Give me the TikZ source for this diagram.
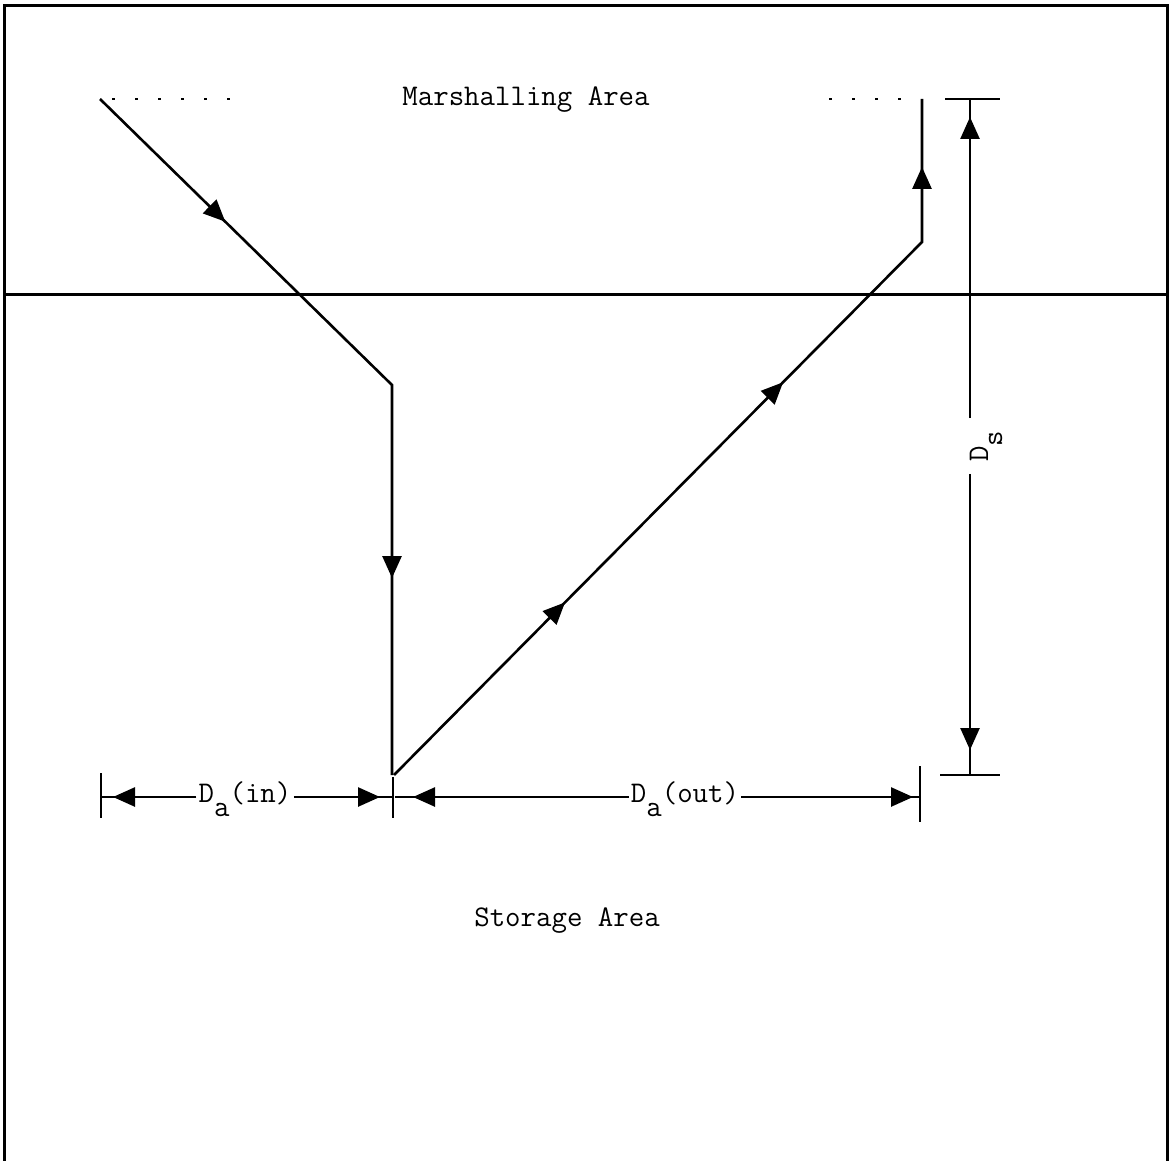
\documentclass[tikz,border=0pt]{standalone}
\usetikzlibrary{arrows.meta,decorations.markings}
\tikzset{
  >={Triangle[length=11pt,width=9.5pt]},
  flow/.style={line width=1.3pt, line join=miter},
  dim/.style={line width=1.3pt},
  frame/.style={line width=1.5pt},
  dots/.style={line width=1.3pt, dash pattern=on 1.5pt off 10pt},
  lbl/.style={font=\fontsize{15}{18}\selectfont\ttfamily, inner sep=1pt},
  midarrow/.style={postaction={decorate, decoration={markings,
      mark=at position #1 with {\arrow{>}}}}},
}
\newcommand{\lowsub}[1]{\raisebox{-7pt}{#1}}
\begin{document}
\begin{tikzpicture}[x=0.5pt,y=-0.5pt]
\useasboundingbox (0,0) rectangle (1173,1161);
% frame and divider
\draw[frame] (4,1161) -- (4,6) -- (1167,6) -- (1167,1161);
\draw[frame] (4,294) -- (1167,294);
% labels
\node[lbl] (marsh) at (526,100) {Marshalling Area};
\node[lbl] (stor) at (567,921) {Storage Area};
% dotted guides
\coordinate (dotLa) at (112,99); \coordinate (dotLb) at (232,99);
\coordinate (dotRa) at (829,99); \coordinate (dotRb) at (902,99);
\draw[dots] (dotLa) -- (dotLb);
\draw[dots] (dotRa) -- (dotRb);
% inbound path
\coordinate (inS) at (100,99);
\coordinate (inK) at (392,385);
\coordinate (inE) at (392,775);
\draw[flow, midarrow=0.2196, midarrow=0.7534] (inS) -- (inK) -- (inE);
% outbound path
\coordinate (outS) at (394,775);
\coordinate (outK) at (922,242);
\coordinate (outE) at (922,99);
\draw[flow, midarrow=0.272, midarrow=0.619, midarrow=0.924] (outS) -- (outK) -- (outE);
% D_s dimension
\coordinate (dsT) at (970,99);
\coordinate (dsB) at (970,775);
\node[lbl, rotate=90, inner xsep=6pt] (ds) at (986,446) {D\lowsub{s}};
\draw[dim] (945,99) -- (dsT) -- (1000,99);
\draw[dim] (940,775) -- (dsB) -- (1000,775);
\draw[dim, midarrow=-9pt] (ds.east -| dsT) -- (dsT);
\draw[dim, midarrow=-12.5pt] (ds.west -| dsB) -- (dsB);
% D_a(in) dimension
\coordinate (ainL) at (101,797);
\coordinate (ainR) at (393,797);
\node[lbl, anchor=base, inner xsep=1pt] (dain) at (245,802) {D\lowsub{a}(in)};
\draw[dim] (101,773) -- (101,818);
\draw[dim] (393,777) -- (393,818);
\draw[dim, midarrow=-6pt] (dain.west |- ainL) -- (ainL);
\draw[dim, midarrow=-6.5pt] (dain.east |- ainR) -- (ainR);
% D_a(out) dimension
\coordinate (aoutL) at (395,797);
\coordinate (aoutR) at (920,797);
\node[lbl, anchor=base, inner xsep=1pt] (daout) at (685,802) {D\lowsub{a}(out)};
\draw[dim] (920,766) -- (920,822);
\draw[dim, midarrow=-9pt] (daout.west |- aoutL) -- (aoutL);
\draw[dim, midarrow=-3.5pt] (daout.east |- aoutR) -- (aoutR);
\end{tikzpicture}
\end{document}
